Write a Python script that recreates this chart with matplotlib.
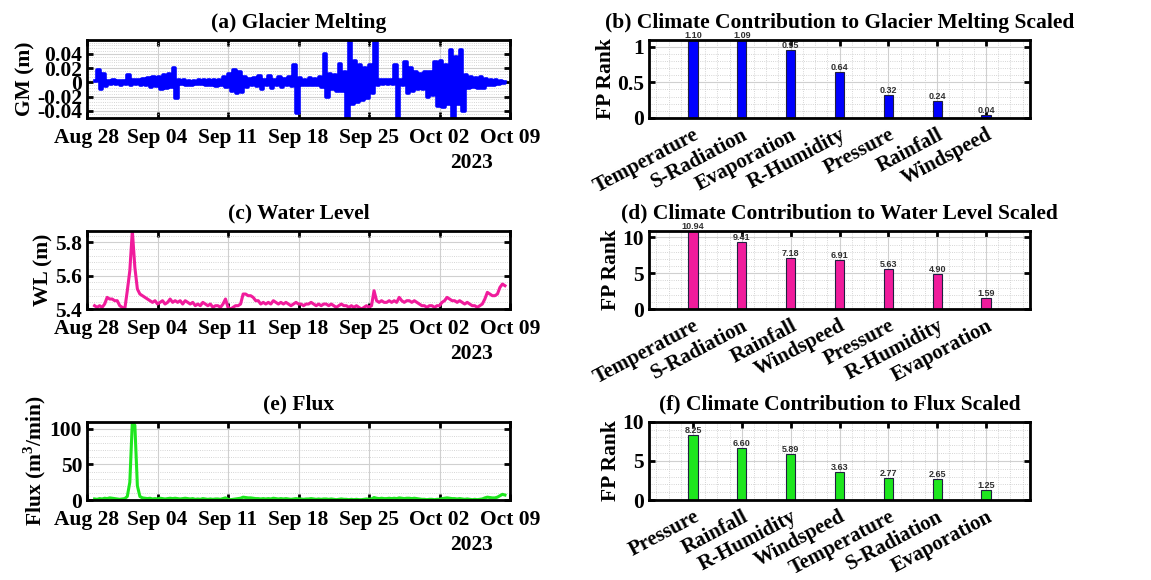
import numpy as np
import pandas as pd
import matplotlib
matplotlib.use("Agg")
import matplotlib.pyplot as plt
import matplotlib.dates as mdates
from matplotlib.ticker import AutoMinorLocator

plt.rcParams['font.family'] = ['Liberation Serif', 'DejaVu Serif']
plt.rcParams['font.weight'] = 'bold'
plt.rcParams['mathtext.fontset'] = 'custom'
plt.rcParams['mathtext.rm'] = 'Liberation Serif:bold'
plt.rcParams['mathtext.bf'] = 'Liberation Serif:bold'

# 6-hourly series starting 2023-08-28 18:00
start_time = '2023-08-28 18:00'

gm = [0.002,
      0.017, -0.009, 0.012, -0.005,
      0.002, -0.002, 0.003, -0.002,
      0.002, -0.003, 0.002, -0.002,
      0.010, -0.003, 0.003, -0.002,
      0.003, -0.004, 0.005, -0.003,
      0.006, -0.006, 0.007, -0.005,
      0.008, -0.009, 0.010, -0.008,
      0.012, -0.006, 0.020, -0.022,
      0.003, -0.002, 0.003, -0.003,
      0.002, -0.003, 0.002, -0.002,
      0.003, -0.002, 0.003, -0.003,
      0.004, -0.004, 0.003, -0.005,
      0.004, -0.003, 0.008, -0.006,
      0.012, -0.012, 0.018, -0.015,
      0.014, -0.013, 0.008, -0.006,
      0.005, -0.004, 0.006, -0.005,
      0.009, -0.009, 0.004, -0.003,
      0.009, -0.008, 0.003, -0.004,
      0.008, -0.007, 0.005, -0.004,
      0.008, -0.005, 0.024, -0.043,
      0.006, -0.004, 0.004, -0.003,
      0.006, -0.004, 0.005, -0.003,
      0.008, -0.006, 0.040, -0.020,
      0.012, -0.010, 0.010, -0.012,
      0.026, -0.012, 0.015, -0.060,
      0.060, -0.030, 0.030, -0.028,
      0.025, -0.025, 0.020, -0.022,
      0.025, -0.015, 0.060, -0.004,
      0.003, -0.002, 0.003, -0.002,
      0.003, -0.002, 0.025, -0.060,
      0.004, -0.004, 0.029, -0.015,
      0.020, -0.012, 0.015, -0.010,
      0.012, -0.010, 0.015, -0.020,
      0.014, -0.018, 0.028, -0.033,
      0.030, -0.035, 0.025, -0.030,
      0.045, -0.060, 0.035, -0.030,
      0.046, -0.040, 0.010, -0.008,
      0.008, -0.007, 0.006, -0.008,
      0.008, -0.008, 0.005, -0.004,
      0.003, -0.003, 0.003, -0.002,
      0.002, -0.001, 0.000]

wl = [5.42,
      5.41, 5.42, 5.41, 5.43,
      5.47, 5.46, 5.46, 5.45,
      5.45, 5.42, 5.41, 5.40,
      5.51, 5.63, 5.87, 5.65,
      5.52, 5.49, 5.48, 5.47,
      5.46, 5.45, 5.44, 5.45,
      5.43, 5.44, 5.45, 5.43,
      5.44, 5.46, 5.44, 5.45,
      5.44, 5.45, 5.43, 5.45,
      5.44, 5.43, 5.44, 5.42,
      5.43, 5.42, 5.44, 5.43,
      5.42, 5.43, 5.41, 5.42,
      5.42, 5.41, 5.43, 5.46,
      5.41, 5.40, 5.41, 5.42,
      5.42, 5.43, 5.49, 5.49,
      5.48, 5.48, 5.47, 5.45,
      5.45, 5.43, 5.44, 5.43,
      5.44, 5.43, 5.45, 5.44,
      5.43, 5.44, 5.43, 5.44,
      5.43, 5.42, 5.43, 5.44,
      5.43, 5.43, 5.42, 5.43,
      5.43, 5.44, 5.43, 5.42,
      5.43, 5.42, 5.43, 5.43,
      5.42, 5.43, 5.42, 5.41,
      5.42, 5.43, 5.42, 5.42,
      5.41, 5.42, 5.41, 5.42,
      5.41, 5.40, 5.41, 5.42,
      5.41, 5.42, 5.51, 5.45,
      5.44, 5.45, 5.44, 5.44,
      5.45, 5.44, 5.45, 5.44,
      5.47, 5.45, 5.44, 5.45,
      5.45, 5.44, 5.45, 5.44,
      5.43, 5.42, 5.42, 5.41,
      5.42, 5.42, 5.41, 5.42,
      5.42, 5.44, 5.45, 5.47,
      5.46, 5.45, 5.45, 5.44,
      5.45, 5.44, 5.43, 5.44,
      5.43, 5.42, 5.42, 5.41,
      5.42, 5.43, 5.46, 5.50,
      5.49, 5.48, 5.48, 5.49,
      5.53, 5.55, 5.54]

flux = [1.5,
        1.0, 2.0, 1.5, 2.5,
        2.0, 3.0, 2.5, 2.0,
        1.5, 1.0, 1.5, 2.0,
        5.0, 25.0, 110.0, 105.0,
        20.0, 5.0, 3.0, 2.5,
        2.0, 2.5, 1.5, 2.0,
        1.5, 2.5, 2.0, 1.5,
        2.0, 2.5, 2.0, 2.5,
        2.0, 1.5, 2.0, 2.5,
        2.0, 1.5, 2.0, 1.0,
        1.5, 1.0, 2.0, 1.5,
        1.0, 1.5, 1.0, 1.5,
        1.5, 1.0, 2.0, 3.0,
        1.0, 0.5, 1.0, 1.5,
        2.0, 2.5, 4.0, 3.5,
        3.0, 3.0, 2.5, 2.0,
        2.0, 1.5, 2.0, 1.5,
        2.0, 1.5, 2.5, 2.0,
        1.5, 2.0, 1.5, 2.0,
        1.5, 1.0, 1.5, 2.0,
        1.5, 1.5, 1.0, 1.5,
        1.5, 2.0, 1.5, 1.0,
        1.5, 1.0, 1.5, 1.5,
        1.0, 1.5, 1.0, 0.5,
        1.0, 1.5, 1.0, 1.0,
        0.5, 1.0, 0.5, 1.0,
        0.5, 0.5, 1.0, 1.5,
        1.0, 1.5, 3.5, 2.5,
        2.0, 2.5, 2.0, 2.0,
        2.5, 2.0, 2.5, 2.0,
        3.0, 2.5, 2.0, 2.5,
        2.5, 2.0, 2.5, 2.0,
        1.5, 1.0, 1.0, 0.5,
        1.0, 1.0, 0.5, 1.0,
        1.0, 2.0, 2.5, 3.0,
        2.5, 2.0, 2.0, 1.5,
        2.0, 1.5, 1.0, 1.5,
        1.0, 0.5, 1.0, 0.5,
        1.0, 1.5, 3.0, 4.0,
        3.5, 3.0, 3.0, 4.0,
        6.0, 8.0, 7.0]

gm_factors = ['Temperature', 'S-Radiation', 'Evaporation', 'R-Humidity',
              'Pressure', 'Rainfall', 'Windspeed']
gm_rank = [1.10, 1.09, 0.95, 0.64, 0.32, 0.24, 0.04]

wl_factors = ['Temperature', 'S-Radiation', 'Rainfall', 'Windspeed',
              'Pressure', 'R-Humidity', 'Evaporation']
wl_rank = [10.94, 9.41, 7.18, 6.91, 5.63, 4.90, 1.59]

flux_factors = ['Pressure', 'Rainfall', 'R-Humidity', 'Windspeed',
                'Temperature', 'S-Radiation', 'Evaporation']
flux_rank = [8.25, 6.60, 5.89, 3.63, 2.77, 2.65, 1.25]

blue = '#0000FF'
pink = '#F01C9C'
green = '#1EE61E'

times = pd.date_range(start_time, periods=len(gm), freq='6h')

fig = plt.figure(figsize=(11.51, 5.80), dpi=100)

left_x, left_w = 0.0756, 0.3675
right_x, right_w = 0.5639, 0.331
rows = [0.7966, 0.4672, 0.1379]
h = 0.135
fs = 15.5


def style_axes(ax):
    for s in ax.spines.values():
        s.set_linewidth(2)
    ax.tick_params(which='both', direction='in', top=True, right=True,
                   labelsize=fs, width=2, length=4)
    ax.tick_params(which='minor', length=0)
    ax.grid(True, which='major', color='#d0d0d0', linewidth=0.8)
    ax.grid(True, which='minor', color='#c8c8c8', linewidth=0.6, linestyle=':')
    ax.set_axisbelow(True)


def time_panel(ax, y, color, title, ylabel, ylim, yticks, ytl, steps=False):
    if steps:
        ax.plot(times, y, color=color, linewidth=2.6, drawstyle='steps-post')
    else:
        ax.plot(times, y, color=color, linewidth=2.2)
    ax.set_xlim(pd.Timestamp('2023-08-28'), pd.Timestamp('2023-10-09'))
    ax.set_ylim(*ylim)
    ax.set_xticks(pd.date_range('2023-08-28', '2023-10-09', freq='7D'))
    ax.xaxis.set_major_formatter(mdates.DateFormatter('%b %d'))
    ax.set_yticks(yticks, ytl)
    ax.yaxis.set_minor_locator(AutoMinorLocator(5))
    style_axes(ax)
    ax.tick_params(axis='x', pad=7)
    ax.set_title(title, fontsize=fs, fontweight='bold', pad=8.5)
    ax.set_ylabel(ylabel, fontsize=fs, fontweight='bold', labelpad=1)
    ax.text(0.91, -0.58, '2023', transform=ax.transAxes, ha='center',
            va='center', fontsize=fs, fontweight='bold')


def bar_panel(ax, labels, vals, color, title, ylim, yticks, ytl):
    x = np.arange(1, len(vals) + 1)
    ax.bar(x, vals, width=0.19, color=color, edgecolor='#202040', linewidth=0.8)
    for xi, v in zip(x, vals):
        ax.text(xi, v, f'{v:.2f}', ha='center', va='bottom', fontsize=6.5,
                fontweight='bold', family='Liberation Sans', color='#303030')
    ax.set_xlim(0.1, 7.9)
    ax.set_ylim(*ylim)
    ax.set_xticks(x, labels, rotation=28, ha='right', rotation_mode='anchor')
    ax.set_yticks(yticks, ytl)
    ax.xaxis.set_minor_locator(AutoMinorLocator(4))
    ax.yaxis.set_minor_locator(AutoMinorLocator(5))
    style_axes(ax)
    ax.tick_params(axis='x', pad=5, labelsize=15)
    ax.set_title(title, fontsize=fs, fontweight='bold', pad=8.5)
    ax.set_ylabel('FP Rank', fontsize=fs, fontweight='bold', labelpad=1)


ax_a = fig.add_axes([left_x, rows[0], left_w, h])
time_panel(ax_a, gm, blue, '(a) Glacier Melting', 'GM (m)', (-0.05, 0.06),
           [-0.04, -0.02, 0, 0.02, 0.04], ['-0.04', '-0.02', '0', '0.02', '0.04'],
           steps=True)

ax_c = fig.add_axes([left_x, rows[1], left_w, h])
time_panel(ax_c, wl, pink, '(c) Water Level', 'WL (m)', (5.4, 5.87),
           [5.4, 5.6, 5.8], ['5.4', '5.6', '5.8'])

ax_e = fig.add_axes([left_x, rows[2], left_w, h])
time_panel(ax_e, flux, green, '(e) Flux', r'Flux (m$^{3}$/min)', (0, 110),
           [0, 50, 100], ['0', '50', '100'])

ax_b = fig.add_axes([right_x, rows[0], right_w, h])
bar_panel(ax_b, gm_factors, gm_rank, blue,
          '(b) Climate Contribution to Glacier Melting Scaled', (0, 1.1),
          [0, 0.5, 1], ['0', '0.5', '1'])

ax_d = fig.add_axes([right_x, rows[1], right_w, h])
bar_panel(ax_d, wl_factors, wl_rank, pink,
          '(d) Climate Contribution to Water Level Scaled', (0, 10.94),
          [0, 5, 10], ['0', '5', '10'])

ax_f = fig.add_axes([right_x, rows[2], right_w, h])
bar_panel(ax_f, flux_factors, flux_rank, green,
          '(f) Climate Contribution to Flux Scaled', (0, 10),
          [0, 5, 10], ['0', '5', '10'])

fig.savefig('out.png', dpi=100, facecolor='white')
